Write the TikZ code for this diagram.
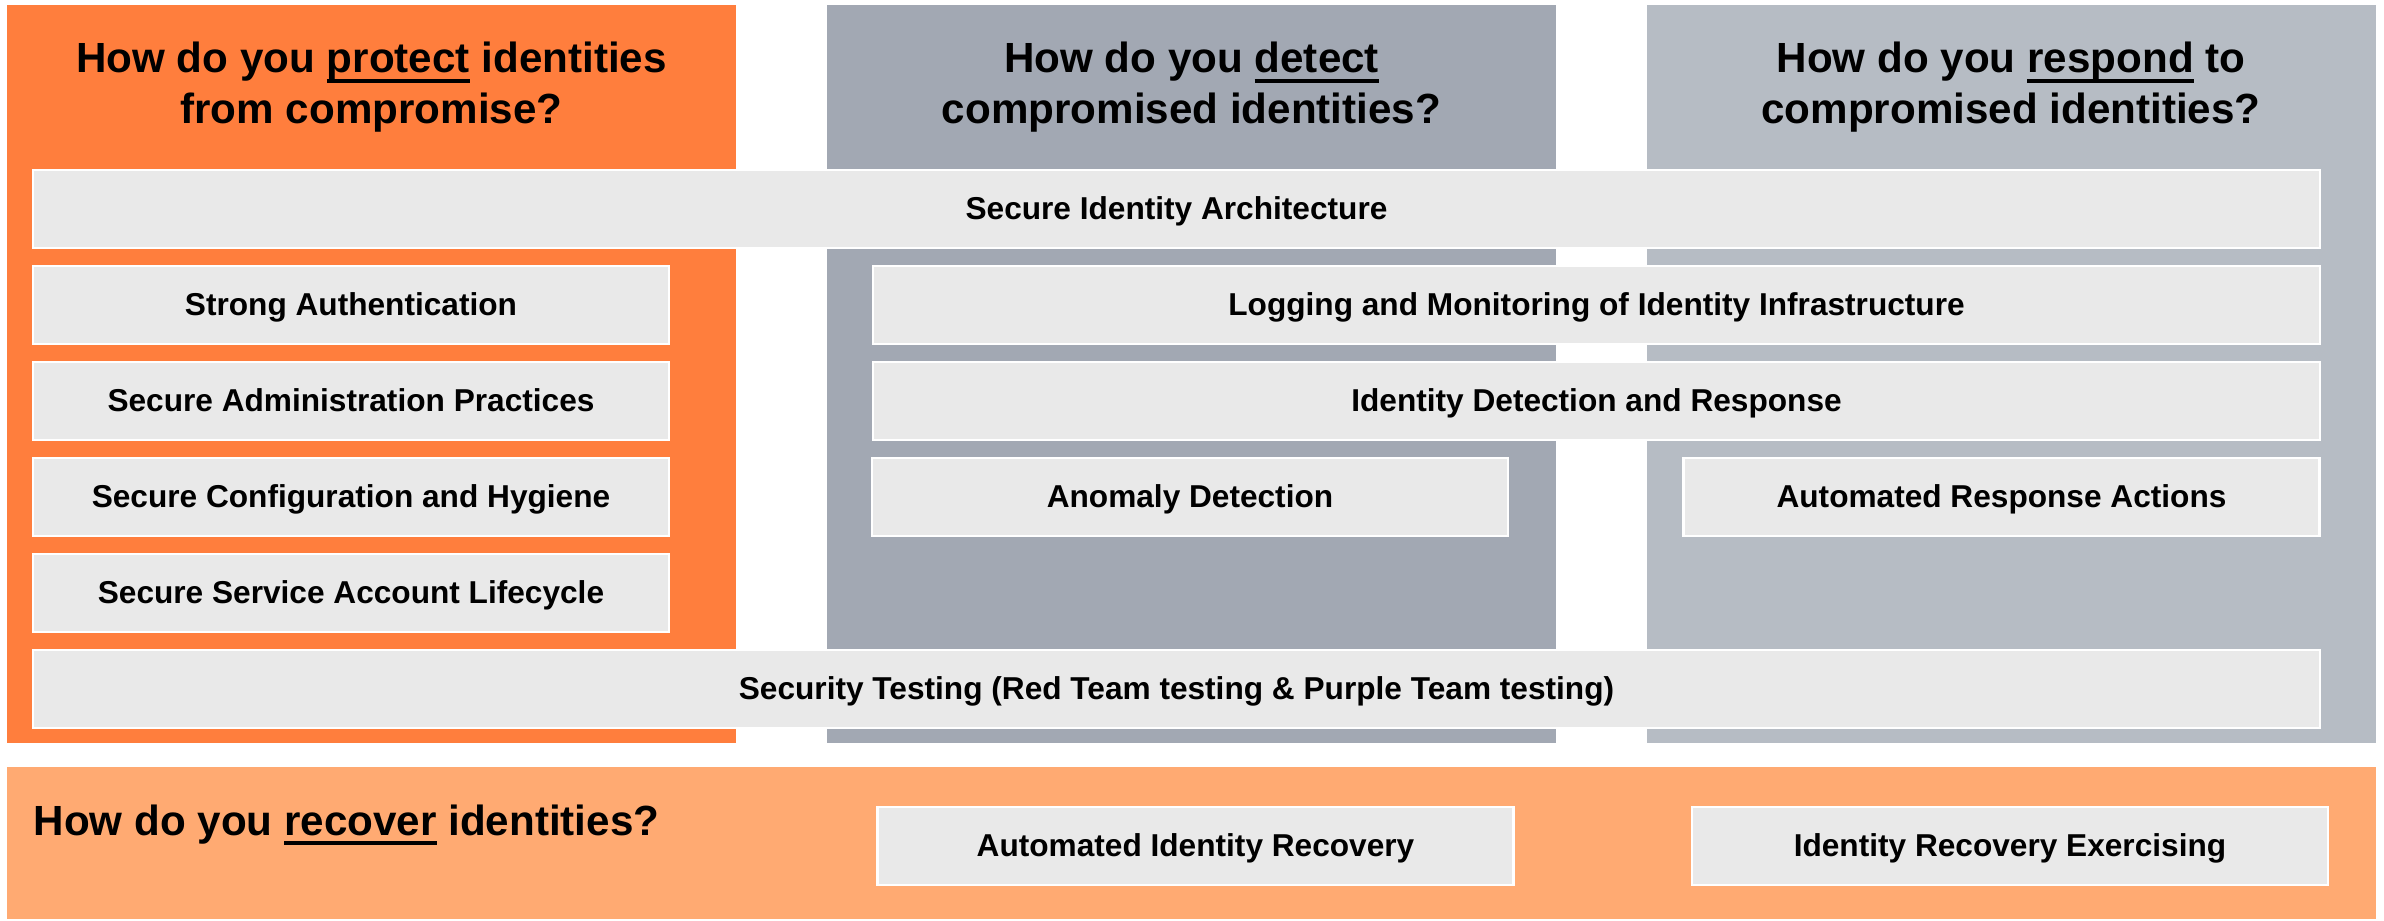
\documentclass[tikz,border=0pt]{standalone}
\usepackage{fontspec}
\setmainfont{Liberation Sans}
\usetikzlibrary{positioning}

\definecolor{protectorange}{RGB}{255,126,61}
\definecolor{detectgray}{RGB}{162,168,179}
\definecolor{respondgray}{RGB}{182,188,196}
\definecolor{recoverorange}{RGB}{255,170,114}
\definecolor{boxgray}{RGB}{233,233,233}

% underlined key word of a question
\newcommand{\qword}[1]{\setbox0=\hbox{#1}\rlap{\rule[-2.9pt]{\wd0}{1.1pt}}\box0\relax}

\begin{document}
\begin{tikzpicture}[
          panel/.style={rectangle, inner sep=0pt, minimum width=7.29cm, minimum height=7.38cm},
          question/.style={align=center, inner sep=0pt, font=\fontsize{12pt}{14.5pt}\selectfont\bfseries},
          ctrlbox/.style={rectangle, draw=white, fill=boxgray, line width=0.6pt, inner sep=0pt,
              minimum height=0.78cm, text height=8pt, text depth=2pt,
              font=\fontsize{9pt}{11pt}\selectfont\bfseries},
          widebox/.style={ctrlbox, minimum width=22.87cm},
          halfbox/.style={ctrlbox, minimum width=14.47cm},
          smallbox/.style={ctrlbox, minimum width=6.36cm}
      ]
      \useasboundingbox (0,0) rectangle (23.84,9.20);
      % columns
      \node[panel, fill=protectorange] (protect) at (3.715, 5.46) {};
      \node[panel, fill=detectgray]    (detect)  at (11.915,5.46) {};
      \node[panel, fill=respondgray]   (respond) at (20.11, 5.46) {};
      \node[rectangle, inner sep=0pt, fill=recoverorange, minimum width=23.69cm, minimum height=1.52cm]
          (recover) at (11.915,0.77) {};
      % questions
      \node[question] (protectq) at (3.715, 8.33) {How do you \qword{protect} identities\\from compromise?};
      \node[question] (detectq)  at (11.915,8.33) {How do you \qword{detect}\\compromised identities?};
      \node[question] (respondq) at (20.11, 8.33) {How do you \qword{respond} to\\compromised identities?};
      \node[question, anchor=base west] (recoverq) at (0.33,0.85) {How do you \qword{recover} identities?};
      % capabilities
      \node[widebox]  (arch)    at (11.765,7.11) {Secure Identity Architecture};
      \node[smallbox] (auth)    at (3.51,  6.15) {Strong Authentication};
      \node[halfbox]  (logging) at (15.965,6.15) {Logging and Monitoring of Identity Infrastructure};
      \node[smallbox] (admin)   at (3.51,  5.19) {Secure Administration Practices};
      \node[halfbox]  (itdr)    at (15.965,5.19) {Identity Detection and Response};
      \node[smallbox] (hygiene) at (3.51,  4.23) {Secure Configuration and Hygiene};
      \node[smallbox] (anomaly) at (11.90, 4.23) {Anomaly Detection};
      \node[smallbox] (autoresp) at (20.015,4.23) {Automated Response Actions};
      \node[smallbox] (svcacct) at (3.51,  3.27) {Secure Service Account Lifecycle};
      \node[widebox]  (testing) at (11.765,2.31) {Security Testing (Red Team testing \& Purple Team testing)};
      \node[smallbox] (autorec) at (11.955,0.74) {Automated Identity Recovery};
      \node[smallbox] (exercise) at (20.10, 0.74) {Identity Recovery Exercising};
      \end{tikzpicture}
\end{document}
